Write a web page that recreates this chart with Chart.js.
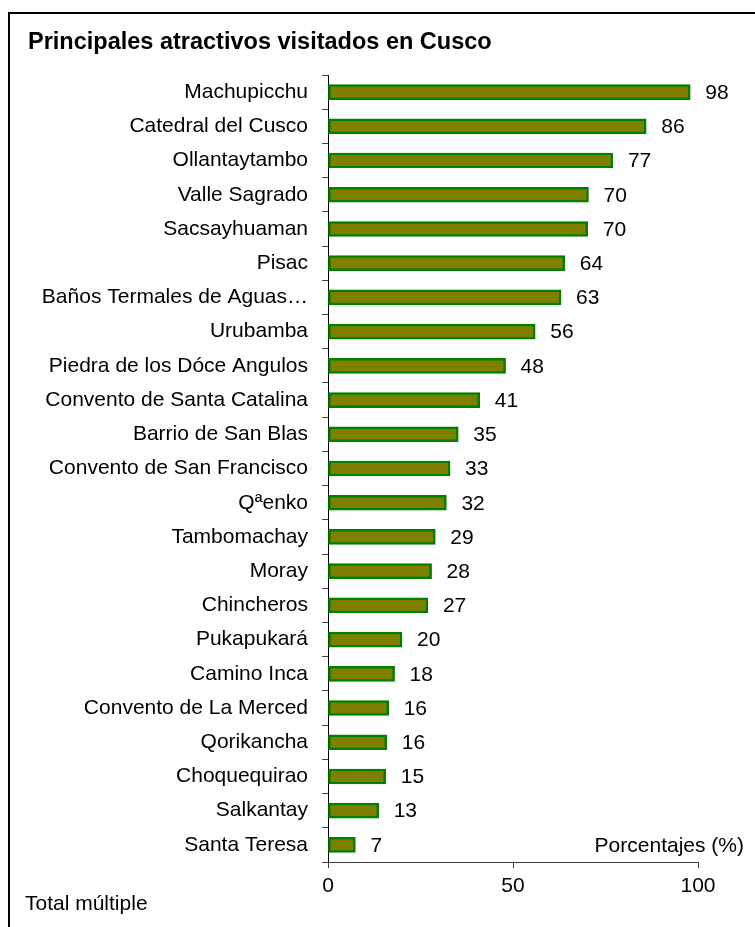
<!DOCTYPE html>
<html>
<head>
<meta charset="utf-8">
<script src="https://cdn.jsdelivr.net/npm/chart.js@4"></script>
<style>
    html, body { margin: 0; padding: 0; background: #fff; }
    #wrap { width: 755px; height: 927px; position: relative; }
</style>
</head>
<body>
<div id="wrap"><canvas id="atractivosChart"></canvas></div>
<script>
const categories = [
    'Machupicchu', 'Catedral del Cusco', 'Ollantaytambo', 'Valle Sagrado',
    'Sacsayhuaman', 'Pisac', 'Baños Termales de Aguas…', 'Urubamba',
    'Piedra de los Dóce Angulos', 'Convento de Santa Catalina', 'Barrio de San Blas',
    'Convento de San Francisco', 'Qªenko', 'Tambomachay', 'Moray', 'Chincheros',
    'Pukapukará', 'Camino Inca', 'Convento de La Merced', 'Qorikancha',
    'Choquequirao', 'Salkantay', 'Santa Teresa'
];
// bar lengths
const percentages = [
    97.9, 86, 77, 70.4, 70.2, 64, 63, 56, 48, 41, 35.2, 33, 32,
    29, 28, 27, 20, 18, 16.4, 15.9, 15.6, 13.7, 7.4
];
// printed value labels
const valueLabels = [
    '98', '86', '77', '70', '70', '64', '63', '56', '48', '41', '35', '33', '32',
    '29', '28', '27', '20', '18', '16', '16', '15', '13', '7'
];
const xTicks = [0, 50, 100];

const chartTitle = 'Principales atractivos visitados en Cusco';
const axisNote = 'Porcentajes (%)';
const footNote = 'Total múltiple';

const FONT = "'Liberation Sans', Arial, sans-serif";

// frame, title and notes
const decorPlugin = {
    id: 'decor',
    beforeDraw(chart) {
        const ctx = chart.ctx;
        ctx.save();
        ctx.fillStyle = '#fff';
        ctx.fillRect(0, 0, chart.width, chart.height);
        ctx.strokeStyle = '#000';
        ctx.lineWidth = 2;
        ctx.beginPath();
        ctx.moveTo(9, chart.height + 2);
        ctx.lineTo(9, 13);
        ctx.lineTo(chart.width + 2, 13);
        ctx.stroke();
        ctx.restore();
    },
    afterDraw(chart) {
        const ctx = chart.ctx;
        const area = chart.chartArea;
        ctx.save();
        ctx.fillStyle = '#000';
        ctx.textBaseline = 'alphabetic';
        ctx.textAlign = 'left';
        ctx.font = 'bold 23.5px ' + FONT;
        ctx.fillText(chartTitle, 28, 49);
        ctx.font = '21px ' + FONT;
        ctx.textAlign = 'right';
        ctx.fillText(axisNote, 744, area.bottom - 10);
        ctx.textAlign = 'left';
        ctx.fillText(footNote, 25, 910);

        // value labels next to each bar
        const meta = chart.getDatasetMeta(0);
        ctx.textBaseline = 'middle';
        meta.data.forEach((bar, i) => {
            ctx.fillText(valueLabels[i], bar.x + 15, bar.y + 1);
        });
        ctx.restore();
    }
};

const ctx = document.getElementById('atractivosChart').getContext('2d');
new Chart(ctx, {
    type: 'bar',
    data: {
        labels: categories,
        datasets: [{
            data: percentages,
            backgroundColor: '#808000',
            borderColor: '#008000',
            borderWidth: 2.5,
            borderSkipped: false,
            barThickness: 15
        }]
    },
    options: {
        indexAxis: 'y',
        responsive: true,
        maintainAspectRatio: false,
        animation: false,
        layout: {
            padding: { top: 75, right: 57, bottom: 0, left: 0 }
        },
        scales: {
            x: {
                min: 0,
                max: 100,
                afterBuildTicks(axis) {
                    axis.ticks = xTicks.map(v => ({ value: v }));
                },
                afterFit(axis) { axis.height = 65; },
                grid: {
                    drawOnChartArea: false,
                    drawTicks: true,
                    tickLength: 6,
                    color: '#404040'
                },
                border: { display: true, color: '#404040', width: 1 },
                ticks: {
                    color: '#000',
                    padding: 6,
                    font: { family: FONT, size: 21 }
                }
            },
            y: {
                afterFit(axis) { axis.width = 328; },
                grid: {
                    offset: true,
                    drawOnChartArea: false,
                    drawTicks: true,
                    tickLength: 6,
                    color: '#404040'
                },
                border: { display: true, color: '#000', width: 1 },
                ticks: {
                    color: '#000',
                    padding: 14,
                    autoSkip: false,
                    font: { family: FONT, size: 21 }
                }
            }
        },
        plugins: {
            legend: { display: false },
            tooltip: { enabled: false }
        }
    },
    plugins: [decorPlugin]
});
</script>
</body>
</html>
